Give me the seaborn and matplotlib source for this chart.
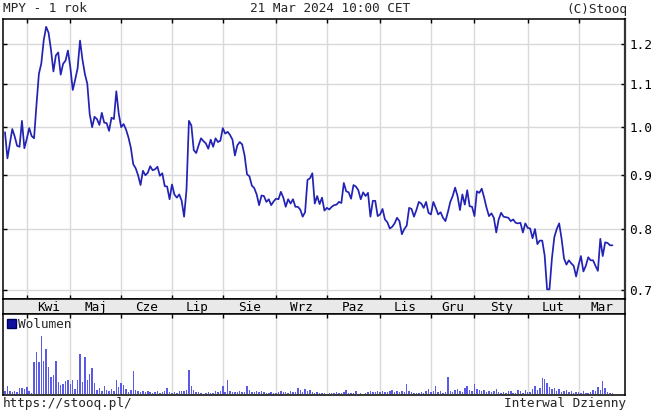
import numpy as np
import pandas as pd
import matplotlib
matplotlib.use("Agg")
import matplotlib.pyplot as plt
import seaborn as sns
from matplotlib.ticker import FixedLocator, FormatStrFormatter, NullLocator
from matplotlib.patches import Patch

# ---------------- data ----------------
title_left = "MPY - 1 rok"
title_center = "21 Mar 2024 10:00 CET"
title_right = "(C)Stooq"
footer_left = "https://stooq.pl/"
footer_right = "Interwal Dzienny"
volume_label = "Wolumen"

month_labels = ["Kwi", "Maj", "Cze", "Lip", "Sie", "Wrz", "Paz", "Lis", "Gru", "Sty", "Lut", "Mar"]
# trading-day index of the first session of each month
month_start_idx = [9, 27, 48, 69, 90, 112, 133, 155, 176, 194, 216, 237]

price_ticks = [0.7, 0.8, 0.9, 1.0, 1.1, 1.2]

price = [
    0.989, 0.934, 0.965, 0.996, 0.980, 0.960, 0.958, 1.014, 0.955, 0.975,
    0.998, 0.981, 0.976, 1.050, 1.124, 1.150, 1.210, 1.246, 1.230, 1.185,
    1.130, 1.170, 1.178, 1.122, 1.149, 1.157, 1.183, 1.140, 1.085, 1.110,
    1.138, 1.209, 1.160, 1.124, 1.100, 1.029, 1.000, 1.023, 1.018, 1.005,
    1.032, 1.010, 1.009, 0.992, 1.021, 1.018, 1.082, 1.030, 1.000, 1.007,
    0.995, 0.978, 0.956, 0.922, 0.914, 0.900, 0.881, 0.909, 0.900, 0.905,
    0.918, 0.910, 0.912, 0.917, 0.899, 0.904, 0.879, 0.878, 0.854, 0.882,
    0.863, 0.857, 0.863, 0.851, 0.822, 0.872, 1.014, 1.004, 0.951, 0.945,
    0.961, 0.976, 0.970, 0.965, 0.954, 0.973, 0.958, 0.976, 0.968, 0.971,
    0.998, 0.986, 0.990, 0.983, 0.973, 0.940, 0.961, 0.968, 0.963, 0.940,
    0.902, 0.898, 0.880, 0.875, 0.863, 0.843, 0.861, 0.860, 0.849, 0.854,
    0.843, 0.850, 0.855, 0.854, 0.868, 0.857, 0.840, 0.854, 0.846, 0.854,
    0.840, 0.840, 0.835, 0.822, 0.830, 0.891, 0.894, 0.904, 0.846, 0.860,
    0.845, 0.857, 0.833, 0.838, 0.835, 0.840, 0.843, 0.844, 0.849, 0.847,
    0.885, 0.869, 0.867, 0.855, 0.881, 0.878, 0.871, 0.854, 0.867, 0.860,
    0.866, 0.822, 0.851, 0.851, 0.823, 0.826, 0.836, 0.817, 0.812, 0.801,
    0.804, 0.810, 0.820, 0.814, 0.791, 0.800, 0.806, 0.838, 0.836, 0.822,
    0.834, 0.849, 0.846, 0.838, 0.849, 0.829, 0.826, 0.849, 0.838, 0.826,
    0.830, 0.820, 0.814, 0.830, 0.849, 0.860, 0.876, 0.860, 0.834, 0.863,
    0.844, 0.871, 0.841, 0.840, 0.823, 0.869, 0.866, 0.874, 0.857, 0.838,
    0.823, 0.828, 0.820, 0.794, 0.817, 0.829, 0.822, 0.821, 0.820, 0.814,
    0.817, 0.811, 0.810, 0.811, 0.794, 0.810, 0.802, 0.801, 0.784, 0.800,
    0.774, 0.780, 0.780, 0.755, 0.701, 0.701, 0.750, 0.786, 0.800, 0.810,
    0.783, 0.750, 0.740, 0.747, 0.742, 0.738, 0.721, 0.739, 0.754, 0.729,
    0.738, 0.752, 0.747, 0.747, 0.738, 0.730, 0.783, 0.754, 0.777, 0.776,
    0.772, 0.772,
]

volume = [
    3, 7.7, 3, 2.3, 3.3, 2.3, 5.7, 5.7, 5, 7.3, 3, 0.7,
    32, 42, 32, 58, 33, 45, 27, 17, 19, 33, 12, 9, 10, 13, 14, 10, 14, 5,
    14, 40, 12, 37, 14, 20, 26, 11, 4, 6, 3, 8, 4, 3, 5, 3, 14, 7, 11, 9,
    5, 2, 4, 23, 4, 3,
    2, 3, 2, 3, 2, 1, 2, 3, 1, 2, 3, 6, 2, 1, 2, 1, 3, 3, 3, 4,
    24, 8, 4, 2, 2, 1, 0.5, 1, 2, 1, 1, 3, 2, 3, 8, 2, 14, 3, 2, 2,
    2, 3, 2, 2, 8, 4, 2, 2, 3, 2, 3, 2, 1, 1, 2, 1, 1, 2, 3, 2,
    2, 1, 3, 2, 2, 6, 4, 2, 5, 3, 4, 2, 1, 2, 1, 1, 1, 0.5, 1, 1,
    1, 2, 1, 1, 2, 4, 1, 1, 1, 3, 0.5, 1, 0.5, 1, 2, 3, 2, 2, 3, 2,
    3, 2, 2, 3, 4, 2, 3, 2, 3, 2, 10, 3, 2, 1, 1, 1, 2, 1, 3, 5,
    2, 3, 8, 2, 3, 1, 2, 17, 3, 2, 4, 5, 3, 2, 6, 8, 4, 3, 10, 5,
    4, 3, 4, 2, 3, 2, 3, 5, 2, 1, 2, 1, 3, 3, 1, 1, 4, 3, 1, 4,
    2, 2, 5, 8, 4, 6, 16, 15, 11, 7, 5, 6, 3, 5, 2, 3, 4, 2, 3, 1,
    2, 2, 1, 3, 1, 1, 2, 4, 3, 7, 4, 13, 6, 2, 1, 1,
]

# ---------------- styling ----------------
sns.set_theme(style="white")
plt.rcParams["font.family"] = ["DejaVu Sans Mono", "DejaVu Sans"]
FS = 9.2
LINE_COLOR = "#2222b4"
BAR_COLOR = "#5a5ae4"
GRID_COLOR = "#d9d9d9"

n = len(price)
idx = np.arange(n)
df = pd.DataFrame({"idx": idx, "price": price, "volume": volume[:n]})

W, H = 654, 412
fig = plt.figure(figsize=(W / 100, H / 100), dpi=100)
L, R = 3, 625
ax = fig.add_axes([L / W, (H - 299) / H, (R - L) / W, 280 / H])
band = fig.add_axes([L / W, (H - 314) / H, (R - L) / W, 15 / H])
axv = fig.add_axes([L / W, (H - 395) / H, (R - L) / W, 81 / H])

xlo, xhi = -0.83, 256.2

# ---- main price panel ----
sns.lineplot(data=df, x="idx", y="price", ax=ax, color=LINE_COLOR, linewidth=1.25)
ax.set_yscale("log")
ax.set_ylim(0.6863, 1.2676)
ax.set_xlim(xlo, xhi)
ax.yaxis.set_major_locator(FixedLocator(price_ticks))
ax.yaxis.set_minor_locator(NullLocator())
ax.yaxis.set_major_formatter(FormatStrFormatter("%.1f"))
ax.xaxis.set_major_locator(FixedLocator(month_start_idx))
ax.xaxis.set_minor_locator(NullLocator())
ax.tick_params(axis="y", which="major", direction="in", left=True, right=True,
               labelleft=False, labelright=True, length=3, width=1,
               labelsize=FS, pad=3, colors="black")
ax.tick_params(axis="x", which="major", direction="in", top=True, bottom=True,
               labelbottom=False, length=3, width=1, colors="black")
ax.grid(True, color=GRID_COLOR, linewidth=1)
ax.set_axisbelow(True)
ax.set_xlabel("")
ax.set_ylabel("")
for s in ax.spines.values():
    s.set_color("black")
    s.set_linewidth(1.1)
ax.spines["right"].set_color("#333333")
ax.spines["right"].set_linewidth(1.6)

# ---- month band ----
band.set_facecolor("#e9e9e9")
band.set_xlim(xlo, xhi)
band.set_ylim(0, 1)
edges = month_start_idx + [xhi]
centers = [(edges[k] + edges[k + 1]) / 2 for k in range(len(month_labels))]
band.set_xticks(centers)
band.set_xticklabels([])
band.tick_params(axis="x", length=0)
band.set_yticks([])
for c, lab in zip(centers, month_labels):
    band.text(c, 0.45, lab, ha="center", va="center", fontsize=FS, color="black")
for s in band.spines.values():
    s.set_color("black")
    s.set_linewidth(1.1)

# ---- volume panel ----
sns.barplot(data=df, x="idx", y="volume", ax=axv, native_scale=True,
            color=BAR_COLOR, width=0.6, errorbar=None, saturation=1,
            linewidth=0)
axv.set_xlim(xlo, xhi)
axv.set_ylim(-1, 80)
axv.xaxis.set_major_locator(FixedLocator(month_start_idx))
axv.xaxis.set_minor_locator(NullLocator())
axv.tick_params(axis="x", direction="in", top=True, bottom=False,
                labelbottom=False, length=3, width=1, colors="black")
axv.set_yticks([])
axv.grid(True, axis="x", color=GRID_COLOR, linewidth=1)
axv.set_axisbelow(True)
axv.set_xlabel("")
axv.set_ylabel("")
for s in axv.spines.values():
    s.set_color("black")
    s.set_linewidth(1.1)
leg = axv.legend(handles=[Patch(facecolor="#1010a0", edgecolor="#000060", label=volume_label)],
                 loc="upper left", frameon=False, fontsize=FS, handlelength=0.7,
                 handleheight=0.7, handletextpad=0.2, borderaxespad=0.1,
                 borderpad=0.2)

# ---- header / footer texts ----
fig.text(3 / W, 1 - 9 / H, title_left, ha="left", va="center", fontsize=FS)
fig.text(330 / W, 1 - 9 / H, title_center, ha="center", va="center", fontsize=FS)
fig.text(627 / W, 1 - 9 / H, title_right, ha="right", va="center", fontsize=FS)
fig.text(3 / W, 8 / H, footer_left, ha="left", va="center", fontsize=FS)
fig.text(626 / W, 8 / H, footer_right, ha="right", va="center", fontsize=FS)

fig.savefig("out.png", dpi=100, facecolor="white")
